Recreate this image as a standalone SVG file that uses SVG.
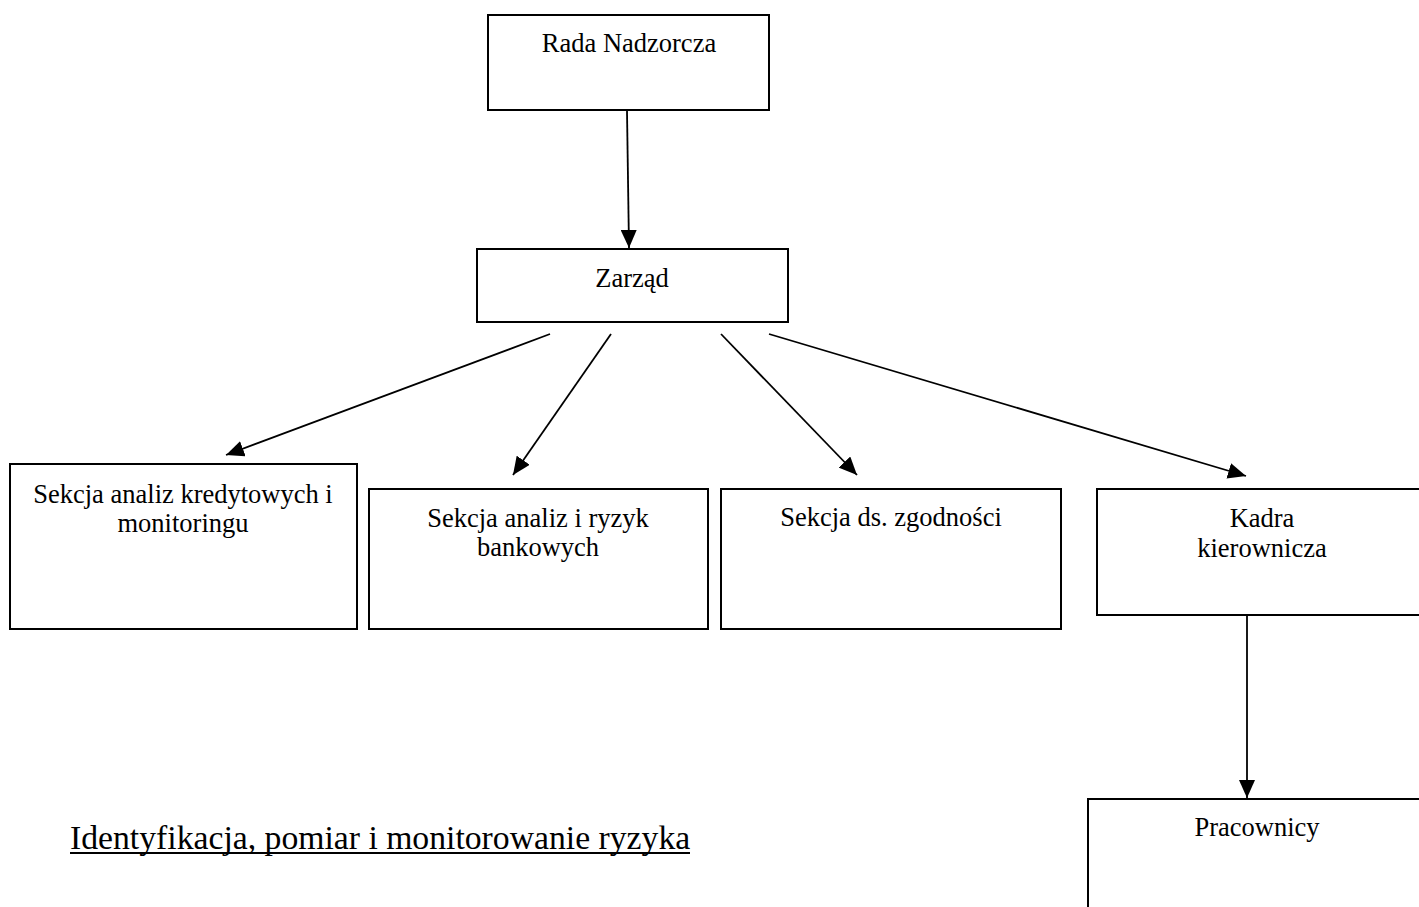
<svg xmlns="http://www.w3.org/2000/svg" width="1419" height="907" viewBox="0 0 1419 907">
<style>
.box{fill:#fff;stroke:#000;stroke-width:2}
.t{font-family:"Liberation Serif","Times New Roman",serif;font-size:26.5px;fill:#000;text-anchor:middle}
.cap{font-family:"Liberation Serif","Times New Roman",serif;font-size:33.7px;fill:#000}
.edge{stroke:#000;stroke-width:1.8;fill:none;marker-end:url(#ah)}
</style>
<defs>
<marker id="ah" markerUnits="userSpaceOnUse" markerWidth="19" markerHeight="16" refX="18" refY="8" orient="auto">
<path d="M0,0 L18,8 L0,16 Z" fill="#000"/>
</marker>
</defs>
<rect width="1419" height="907" fill="#fff"/>
<g id="connectors">
<line class="edge" x1="627" y1="111" x2="629" y2="248"/>
<line class="edge" x1="550" y1="334" x2="226" y2="455"/>
<line class="edge" x1="611" y1="334" x2="513" y2="475"/>
<line class="edge" x1="721" y1="334" x2="857" y2="475"/>
<line class="edge" x1="769" y1="334" x2="1246" y2="476"/>
<line class="edge" x1="1247" y1="615" x2="1247" y2="798"/>
</g>
<g id="rada">
<rect class="box" x="488" y="15" width="281" height="95"/>
<text class="t" x="629" y="52">Rada Nadzorcza</text>
</g>
<g id="zarzad">
<rect class="box" x="477" y="249" width="311" height="73"/>
<text class="t" x="632" y="287">Zarząd</text>
</g>
<g id="sekcja-kredytowa">
<rect class="box" x="10" y="464" width="347" height="165"/>
<text class="t" x="183" y="503">Sekcja analiz kredytowych i</text>
<text class="t" x="183" y="532">monitoringu</text>
</g>
<g id="sekcja-ryzyk">
<rect class="box" x="369" y="489" width="339" height="140"/>
<text class="t" x="538" y="527">Sekcja analiz i ryzyk</text>
<text class="t" x="538" y="556">bankowych</text>
</g>
<g id="sekcja-zgodnosci">
<rect class="box" x="721" y="489" width="340" height="140"/>
<text class="t" x="891" y="526">Sekcja ds. zgodności</text>
</g>
<g id="kadra">
<rect class="box" x="1097" y="489" width="340" height="126"/>
<text class="t" x="1262" y="527">Kadra</text>
<text class="t" x="1262" y="557">kierownicza</text>
</g>
<g id="pracownicy">
<rect class="box" x="1088" y="799" width="350" height="130"/>
<text class="t" x="1257" y="836">Pracownicy</text>
</g>
<g id="podpis">
<text class="cap" x="70" y="849">Identyfikacja, pomiar i monitorowanie ryzyka</text>
<line x1="70" y1="853" x2="690" y2="853" stroke="#000" stroke-width="2"/>
</g>
</svg>
